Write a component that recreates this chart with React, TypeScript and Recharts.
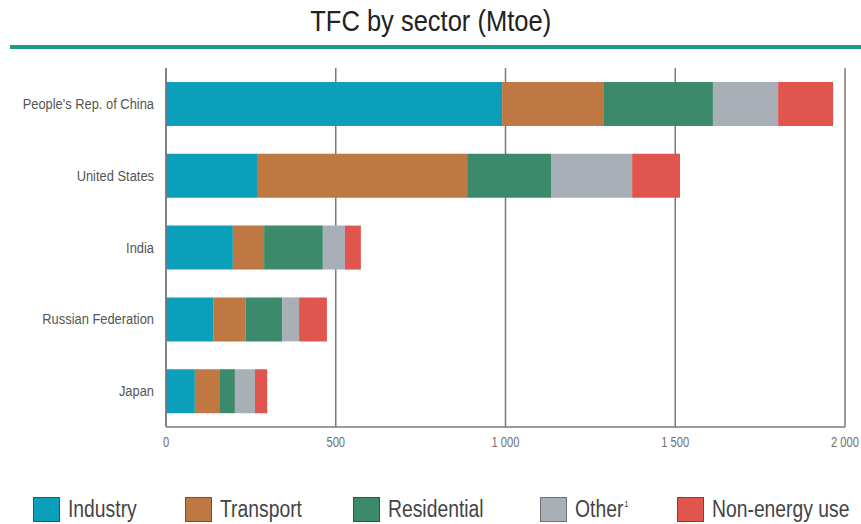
import { BarChart, Bar, XAxis, YAxis, CartesianGrid } from "recharts";

const countries = ["People's Rep. of China", "United States", "India", "Russian Federation", "Japan"];
const industry = [990, 268, 197, 139, 85];
const transport = [300, 619, 92, 96, 74];
const residential = [321, 247, 173, 107, 44];
const other = [192, 239, 65, 50, 59];
const nonEnergy = [162, 141, 47, 82, 36];
const xTicks = [0, 500, 1000, 1500, 2000];

const series = [
  { key: "industry", label: "Industry", color: "#0b9fbc" },
  { key: "transport", label: "Transport", color: "#c07842" },
  { key: "residential", label: "Residential", color: "#3b8a6b" },
  { key: "other", label: "Other", sup: "1", color: "#a9afb7" },
  { key: "nonEnergy", label: "Non-energy use", color: "#e0564f" },
];
const legendLeft = [33, 185, 353, 540, 677];

const font = "'Liberation Sans', Arial, sans-serif";

const fmt = (v: number) => (v >= 1000 ? `${Math.floor(v / 1000)} ${String(v % 1000).padStart(3, "0")}` : String(v));

// no narrow font installed, so squeeze text horizontally
function XTick(props: any) {
  const { x, y, payload } = props;
  return (
    <g transform={`translate(${x},${y + 12}) scale(0.8,1)`}>
      <text textAnchor="middle" fontSize={14} fill="#707070" fontFamily={font}>
        {fmt(payload.value)}
      </text>
    </g>
  );
}

function YTick(props: any) {
  const { x, y, payload } = props;
  return (
    <g transform={`translate(${x - 4},${y + 5}) scale(0.86,1)`}>
      <text textAnchor="end" fontSize={15} fill="#555" fontFamily={font}>
        {payload.value}
      </text>
    </g>
  );
}

export default function App() {
  const data = countries.map((c, i) => ({
    name: c,
    industry: industry[i],
    transport: transport[i],
    residential: residential[i],
    other: other[i],
    nonEnergy: nonEnergy[i],
  }));

  return (
    <div style={{ position: "fixed", top: 0, left: 0, width: 861, height: 524, background: "#fff" }}>
      <style>{`body{margin:0;overflow:hidden}`}</style>
      <div style={{ position: "absolute", top: 3, left: 0, width: 861, textAlign: "center", lineHeight: "36px" }}>
        <span style={{ display: "inline-block", fontFamily: font, fontSize: 30, color: "#222", transform: "scaleX(0.85)" }}>
          TFC by sector (Mtoe)
        </span>
      </div>
      <div style={{ position: "absolute", top: 45, left: 10, width: 851, height: 4, background: "#1f9a84" }} />
      <div style={{ position: "absolute", top: 0, left: 0 }}>
        <BarChart width={861} height={460} data={data} layout="vertical" margin={{ top: 68, right: 16, bottom: 0, left: 0 }}>
          <CartesianGrid horizontal={false} stroke="#7a7a7a" strokeWidth={1.5} />
          <XAxis
            type="number"
            domain={[0, 2000]}
            ticks={xTicks}
            height={33}
            axisLine={{ stroke: "#7a7a7a", strokeWidth: 1.5 }}
            tickLine={false}
            tick={<XTick />}
          />
          <YAxis
            type="category"
            dataKey="name"
            width={166}
            axisLine={{ stroke: "#7a7a7a", strokeWidth: 1.5 }}
            tickLine={false}
            tick={<YTick />}
          />
          {series.map((s) => (
            <Bar key={s.key} dataKey={s.key} stackId="a" fill={s.color} barSize={44} isAnimationActive={false} />
          ))}
        </BarChart>
      </div>
      {series.map((s, i) => (
        <div
          key={s.key}
          style={{ position: "absolute", top: 497, left: legendLeft[i], display: "flex", alignItems: "center", whiteSpace: "nowrap", height: 25 }}
        >
          <span style={{ display: "inline-block", boxSizing: "border-box", width: 27, height: 25, background: s.color, border: "1px solid rgba(0,0,0,0.35)", marginRight: 8 }} />
          <span
            style={{ display: "inline-block", height: 25, fontFamily: font, fontSize: 23, lineHeight: "25px", color: "#444", transform: "scaleX(0.84)", transformOrigin: "left center" }}
          >
            {s.label}
            {s.sup && <span style={{ fontSize: 9, lineHeight: 0, position: "relative", top: -10, marginLeft: 1 }}>{s.sup}</span>}
          </span>
        </div>
      ))}
    </div>
  );
}
